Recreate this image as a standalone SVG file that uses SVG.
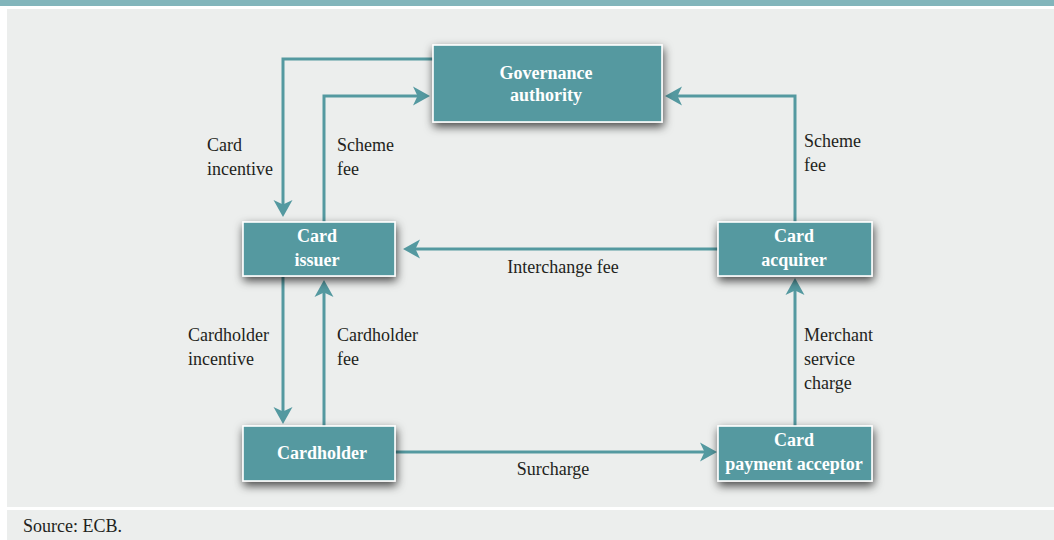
<svg xmlns="http://www.w3.org/2000/svg" width="1054" height="540" viewBox="0 0 1054 540">
  <defs>
    <filter id="sh" x="-20%" y="-40%" width="140%" height="190%">
      <feDropShadow dx="1" dy="4" stdDeviation="5" flood-color="#000" flood-opacity="0.7"/>
    </filter>
    <marker id="ah" markerUnits="userSpaceOnUse" markerWidth="20" markerHeight="20" viewBox="0 0 20 20" refX="8" refY="10" orient="auto">
      <path d="M18,10 L1,0.5 L5.5,10 L1,19.5 Z" fill="#5499a0"/>
    </marker>
    <style>
      .box { fill: #5499a0; stroke: #ffffff; stroke-width: 1.6; }
      .bt { font-size: 18px; font-weight: bold; fill: #ffffff; text-anchor: middle; }
      .lb { font-size: 18px; fill: #231f20; }
      .ln { fill: none; stroke: #5499a0; stroke-width: 3; }
    </style>
  </defs>

  <rect x="0" y="0" width="1054" height="540" fill="#ffffff"/>
  <rect x="0" y="0" width="1054" height="6" fill="#82b5bb"/>
  <rect x="7" y="9" width="1047" height="498" fill="#eceeed"/>
  <rect x="7" y="510" width="1047" height="30" fill="#eceeed"/>

  <g id="connectors" font-family="Liberation Serif, serif">
    <path class="ln" d="M433,59 H283 V207" marker-end="url(#ah)"/>
    <path class="ln" d="M324,222 V96 H420" marker-end="url(#ah)"/>
    <path class="ln" d="M795,222 V96 H675" marker-end="url(#ah)"/>
    <path class="ln" d="M718,249 H413" marker-end="url(#ah)"/>
    <path class="ln" d="M283,277 V414" marker-end="url(#ah)"/>
    <path class="ln" d="M324,426 V290" marker-end="url(#ah)"/>
    <path class="ln" d="M395,452 H707" marker-end="url(#ah)"/>
    <path class="ln" d="M795,426 V288" marker-end="url(#ah)"/>

    <text class="lb" x="207" y="151">Card</text>
    <text class="lb" x="207" y="175">incentive</text>
    <text class="lb" x="337" y="151">Scheme</text>
    <text class="lb" x="337" y="175">fee</text>
    <text class="lb" x="804" y="147">Scheme</text>
    <text class="lb" x="804" y="171">fee</text>
    <text class="lb" x="563" y="273" text-anchor="middle">Interchange fee</text>
    <text class="lb" x="188" y="341">Cardholder</text>
    <text class="lb" x="188" y="365">incentive</text>
    <text class="lb" x="337" y="341">Cardholder</text>
    <text class="lb" x="337" y="365">fee</text>
    <text class="lb" x="804" y="341">Merchant</text>
    <text class="lb" x="804" y="365">service</text>
    <text class="lb" x="804" y="389">charge</text>
    <text class="lb" x="553" y="475" text-anchor="middle">Surcharge</text>
  </g>

  <g id="governance" font-family="Liberation Serif, serif">
    <rect class="box" x="433" y="45" width="229" height="77" filter="url(#sh)"/>
    <text class="bt" x="546" y="79">Governance</text>
    <text class="bt" x="546" y="101">authority</text>
  </g>
  <g id="issuer" font-family="Liberation Serif, serif">
    <rect class="box" x="243" y="222" width="152" height="54" filter="url(#sh)"/>
    <text class="bt" x="317" y="242">Card</text>
    <text class="bt" x="317" y="266">issuer</text>
  </g>
  <g id="acquirer" font-family="Liberation Serif, serif">
    <rect class="box" x="718" y="222" width="154" height="54" filter="url(#sh)"/>
    <text class="bt" x="794" y="242">Card</text>
    <text class="bt" x="794" y="266">acquirer</text>
  </g>
  <g id="cardholder" font-family="Liberation Serif, serif">
    <rect class="box" x="243" y="426" width="152" height="55" filter="url(#sh)"/>
    <text class="bt" x="322" y="459">Cardholder</text>
  </g>
  <g id="acceptor" font-family="Liberation Serif, serif">
    <rect class="box" x="718" y="426" width="154" height="55" filter="url(#sh)"/>
    <text class="bt" x="794" y="446">Card</text>
    <text class="bt" x="794" y="470">payment acceptor</text>
  </g>

  <text class="lb" x="23" y="532" font-family="Liberation Serif, serif">Source: ECB.</text>
</svg>
